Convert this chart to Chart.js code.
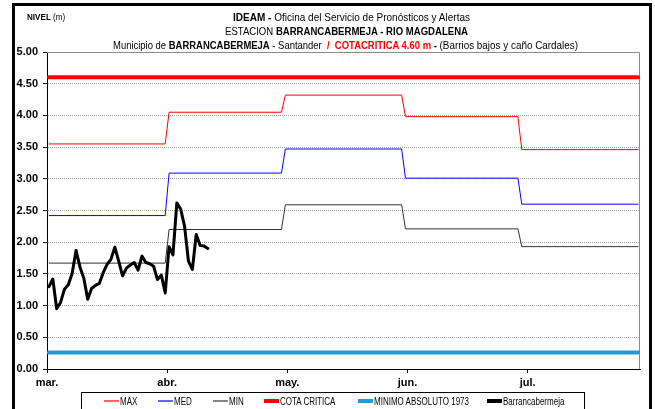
<!DOCTYPE html>
<html>
<head>
<meta charset="utf-8">
<script src="https://cdn.jsdelivr.net/npm/chart.js@4/dist/chart.umd.min.js"></script>
<style>
  body { margin: 0; background: #fff; }
  #wrap { position: relative; width: 655px; height: 409px; overflow: hidden;
          font-family: 'Liberation Sans', Arial, sans-serif; color: #000; }
  #frame { position: absolute; left: 12px; top: 3px; width: 640px; height: 440px;
           border: 3px solid #000; border-bottom: none; box-sizing: border-box; }
  canvas { position: absolute; left: 0; top: 0; }
  .t { position: absolute; font-size: 11px; line-height: 13px; white-space: nowrap;
       transform-origin: left center; }
  .red { color: #ff0000; }
  #nivel { position: absolute; left: 27px; top: 12px; font-size: 9px; white-space: nowrap;
           transform: scaleX(0.9); transform-origin: left center; }
  #legend { position: absolute; left: 81px; top: 392px; width: 504px; height: 30px;
            border: 1px solid #000; box-sizing: border-box; background: #fff; }
  .li { position: absolute; top: 2px; height: 12px; display: flex; align-items: center;
        font-size: 10px; white-space: nowrap; }
  .sw { display: inline-block; width: 15px; margin-right: 1px; flex: none; }
  .lt { display: inline-block; transform: scaleX(0.8); transform-origin: left center; }
</style>
</head>
<body>
<div id="wrap">
  <canvas id="chart" width="655" height="409"></canvas>
  <div id="frame"></div>
  <div id="nivel"><b>NIVEL</b> (m)</div>
  <div class="t" style="top:11px;left:233px;transform:scaleX(0.91)"><b>IDEAM -</b> Oficina del Servicio de Pronósticos y Alertas</div>
  <div class="t" style="top:25px;left:225px;transform:scaleX(0.87)">ESTACION <b>BARRANCABERMEJA - RIO MAGDALENA</b></div>
  <div class="t" style="top:39px;left:113px;transform:scaleX(0.86)">Municipio de <b>BARRANCABERMEJA</b> - Santander <b class="red">&nbsp;/&nbsp; COTACRITICA 4.60 m</b> <b>-</b> <span style="font-size:11.5px">(Barrios bajos y caño Cardales)</span></div>
  <div id="legend"></div>
</div>
<script>
// ---- data ----
const monthLabels = ["mar.", "abr.", "may.", "jun.", "jul."];
const monthDays = [31, 30, 31, 30, 31];
const tickEvery = 31;

const maxLevel = [3.55, 4.05, 4.32, 3.98, 3.46];
const medLevel = [2.42, 3.09, 3.47, 3.01, 2.60];
const minLevel = [1.67, 2.20, 2.59, 2.21, 1.93];
const cotaCritica = 4.60;
const minimoAbsoluto = 0.26;

// daily level, from 1 March
const observed = [
  1.30, 1.42, 0.95, 1.05, 1.26, 1.33, 1.51, 1.87, 1.61, 1.43,
  1.10, 1.27, 1.32, 1.35, 1.52, 1.65, 1.73, 1.92, 1.70, 1.47,
  1.59, 1.64, 1.68, 1.56, 1.78, 1.68, 1.66, 1.62, 1.41, 1.48,
  1.20, 1.93, 1.80, 2.62, 2.52, 2.25, 1.70, 1.57, 2.12, 1.95,
  1.94, 1.90
];

const totalDays = monthDays.reduce((a, b) => a + b, 0);

function monthlySteps(values) {
  const pts = [];
  let start = 0;
  values.forEach((v, i) => {
    pts.push({ x: start, y: v });
    pts.push({ x: start + monthDays[i] - 1, y: v });
    start += monthDays[i];
  });
  return pts;
}

function flat(v) {
  return [{ x: 0, y: v }, { x: totalDays - 1, y: v }];
}

// ---- chart ----
Chart.defaults.font.family = "'Liberation Sans', Arial, sans-serif";
Chart.defaults.color = "#000";

const plotFrame = {
  id: "plotFrame",
  beforeDatasetsDraw(chart) {
    const a = chart.chartArea, ctx = chart.ctx;
    ctx.save();
    ctx.strokeStyle = "#8c8c8c";
    ctx.lineWidth = 1;
    ctx.beginPath();
    ctx.moveTo(a.left, a.top + 0.5);
    ctx.lineTo(a.right - 0.5, a.top + 0.5);
    ctx.lineTo(a.right - 0.5, a.bottom);
    ctx.stroke();
    ctx.restore();
  }
};

const chart = new Chart(document.getElementById("chart"), {
  type: "line",
  data: {
    datasets: [
      { label: "MAX", data: monthlySteps(maxLevel), borderColor: "#ff0000", borderWidth: 1, legendH: 2 },
      { label: "MED", data: monthlySteps(medLevel), borderColor: "#0000ff", borderWidth: 1, legendH: 2 },
      { label: "MIN", data: monthlySteps(minLevel), borderColor: "#333333", borderWidth: 1, legendH: 2 },
      { label: "COTA CRITICA", data: flat(cotaCritica), borderColor: "#ff0000", borderWidth: 4, legendH: 4 },
      { label: "MINIMO ABSOLUTO 1973", data: flat(minimoAbsoluto), borderColor: "#1a9fd0", borderWidth: 4, legendH: 4 },
      { label: "Barrancabermeja", data: observed.map((v, i) => ({ x: i, y: v })), borderColor: "#000000",
        borderWidth: 3, legendH: 4, order: -1 }
    ]
  },
  options: {
    responsive: false,
    animation: false,
    parsing: false,
    elements: {
      point: { radius: 0 },
      line: { tension: 0, borderJoinStyle: "round", borderCapStyle: "round" }
    },
    layout: { padding: { top: 52, right: 15, bottom: 0, left: 0 } },
    plugins: { legend: { display: false }, tooltip: { enabled: false } },
    scales: {
      x: {
        type: "linear",
        min: -0.5,
        max: totalDays - 0.5,
        afterBuildTicks: s => { s.ticks = monthLabels.map((_, k) => ({ value: k * tickEvery - 0.5 })); },
        afterFit: s => { s.height = 40; },
        ticks: {
          callback: (v, i) => monthLabels[i],
          autoSkip: false, maxRotation: 0, padding: 3,
          font: { size: 11, weight: "bold" }
        },
        grid: { drawOnChartArea: false, tickLength: 4, color: "#000", tickColor: "#000" },
        border: { color: "#000", width: 1 }
      },
      y: {
        min: 0,
        max: 5,
        afterFit: s => { s.width = 47; },
        ticks: {
          stepSize: 0.5,
          callback: v => v.toFixed(2),
          padding: 5,
          font: { size: 11, weight: "bold" }
        },
        grid: { color: "#a6a6a6", tickColor: "#000", tickLength: 4 },
        border: { color: "#000", width: 1, dash: [1, 1] }
      }
    }
  },
  plugins: [plotFrame]
});

// legend built from the datasets
const legendLeft = [22, 76, 131, 182, 276, 405];
const legend = document.getElementById("legend");
chart.data.datasets.forEach((ds, i) => {
  const item = document.createElement("div");
  item.className = "li";
  item.style.left = legendLeft[i] + "px";
  const sw = document.createElement("span");
  sw.className = "sw";
  sw.style.height = ds.legendH + "px";
  sw.style.background = ds.borderColor;
  if (ds.legendH < 3) sw.style.opacity = 0.6;
  const txt = document.createElement("span");
  txt.className = "lt";
  txt.textContent = ds.label;
  item.appendChild(sw);
  item.appendChild(txt);
  legend.appendChild(item);
});
</script>
</body>
</html>
